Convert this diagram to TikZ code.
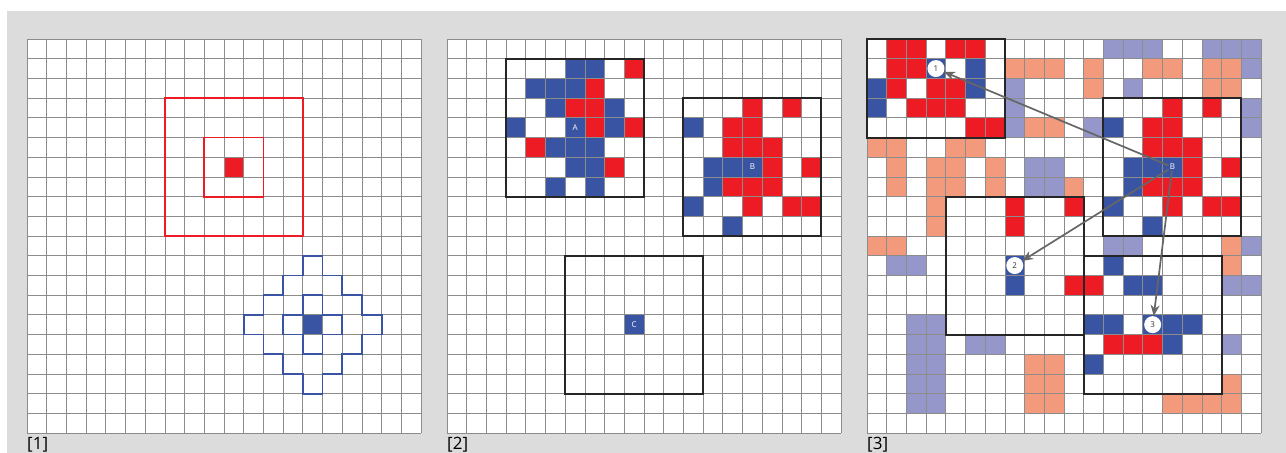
\documentclass[tikz,border=0pt]{standalone}
\usepackage{fontspec}
\setmainfont{Open Sans}
\usepackage{tikz}
\usetikzlibrary{arrows.meta}
\definecolor{cellred}{HTML}{ED1C24}
\definecolor{cellblue}{HTML}{3A54A4}
\definecolor{cellsalmon}{HTML}{F49A7C}
\definecolor{celllav}{HTML}{9597CB}
\definecolor{panelgray}{HTML}{DCDCDC}
\definecolor{arrowgray}{HTML}{666666}

% cells of the window round B (same in [2] and [3])
\newcommand{\redB}{15/3,17/3,14/4,15/4,14/5,15/5,16/5,16/6,18/6,14/7,15/7,16/7,15/8,17/8,18/8}
\newcommand{\blueB}{12/4,13/6,14/6,15/6,13/7,12/8,14/9}

\begin{document}
\begin{tikzpicture}[x=19.7pt, y=-19.7pt,
  gridline/.style={draw=black!45, line width=0.7pt},
  pickbox/.style={draw=black!85, line width=2pt},
  redring/.style={draw=cellred, line width=1.8pt},
  bluering/.style={draw=cellblue, line width=1.8pt, line join=miter},
  celllabel/.style={text=white, font=\fontsize{8}{9}\selectfont, inner sep=1pt},
  marker/.style={circle, fill=white, inner sep=0pt, minimum size=17pt,
    text=black!80, font=\fontsize{8}{9}\selectfont},
  linkarrow/.style={draw=arrowgray, line width=1.7pt, -{Stealth[length=11pt, width=9pt]}},
  panellabel/.style={anchor=base west, inner sep=0pt, font=\fontsize{17}{20}\selectfont},
]
  % page and background
  \useasboundingbox (-1.371,-1.980) rectangle (63.909,21.015);
  \fill[panelgray] (-1.015,-1.421) rectangle (63.909,21.015);

  % [1] neighbourhoods
  \begin{scope}
    \fill[white] (0,0) rectangle (20,20);
    \fill[cellred] (10,6) rectangle ++(1,1);
    \fill[cellblue] (14,14) rectangle ++(1,1);
    \foreach \i in {0,...,20} {
      \draw[gridline] (\i,0) -- (\i,20);
      \draw[gridline] (0,\i) -- (20,\i);
    }
    \draw[redring] (9,5) rectangle (12,8);
    \draw[redring] (7,3) rectangle (14,10);
    \draw[bluering] (14,13) -- (15,13) -- (15,14) -- (16,14) -- (16,15) -- (15,15)
      -- (15,16) -- (14,16) -- (14,15) -- (13,15) -- (13,14) -- (14,14) -- cycle;
    \draw[bluering] (14,11) -- (15,11) -- (15,12) -- (16,12) -- (16,13) -- (17,13)
      -- (17,14) -- (18,14) -- (18,15) -- (17,15) -- (17,16) -- (16,16) -- (16,17)
      -- (15,17) -- (15,18) -- (14,18) -- (14,17) -- (13,17) -- (13,16) -- (12,16)
      -- (12,15) -- (11,15) -- (11,14) -- (12,14) -- (12,13) -- (13,13) -- (13,12)
      -- (14,12) -- cycle;
    \node[panellabel] (lab1) at (0,20.86) {[1]};
  \end{scope}

  % [2] windows A, B, C
  \begin{scope}[shift={(21.32,0)}]
    \fill[white] (0,0) rectangle (20,20);
    \foreach \c/\r in {9/1,7/2,6/3,7/3,7/4,9/4,4/5,8/6}
      \fill[cellred] (\c,\r) rectangle ++(1,1);
    \foreach \c/\r in {6/1,7/1,4/2,5/2,6/2,5/3,8/3,3/4,6/4,8/4,5/5,6/5,7/5,6/6,7/6,5/7,7/7,9/14}
      \fill[cellblue] (\c,\r) rectangle ++(1,1);
    \foreach \c/\r in \redB
      \fill[cellred] (\c,\r) rectangle ++(1,1);
    \foreach \c/\r in \blueB
      \fill[cellblue] (\c,\r) rectangle ++(1,1);
    \foreach \i in {0,...,20} {
      \draw[gridline] (\i,0) -- (\i,20);
      \draw[gridline] (0,\i) -- (20,\i);
    }
    \draw[pickbox] (3,1) rectangle (10,8);
    \draw[pickbox] (12,3) rectangle (19,10);
    \draw[pickbox] (6,11) rectangle (13,18);
    \node[celllabel] (a2) at (6.5,4.5) {A};
    \node[celllabel] (b2) at (15.5,6.5) {B};
    \node[celllabel] (c2) at (9.5,14.5) {C};
    \node[panellabel] (lab2) at (0,20.86) {[2]};
  \end{scope}

  % [3] B and the three candidates
  \begin{scope}[shift={(42.64,0)}]
    \fill[white] (0,0) rectangle (20,20);
    \foreach \c/\r in {7/1,8/1,9/1,11/1,14/1,15/1,17/1,18/1,11/2,17/2,18/2,8/4,9/4,
        0/5,1/5,4/5,5/5,1/6,3/6,4/6,6/6,1/7,3/7,4/7,6/7,10/7,3/8,3/9,0/10,1/10,
        18/10,18/11,8/16,9/16,8/17,9/17,18/17,8/18,9/18,15/18,16/18,17/18,18/18}
      \fill[cellsalmon] (\c,\r) rectangle ++(1,1);
    \foreach \c/\r in {12/0,13/0,14/0,17/0,18/0,19/0,19/1,7/2,13/2,7/3,19/3,7/4,11/4,
        19/4,8/6,9/6,8/7,9/7,12/10,13/10,19/10,1/11,2/11,18/12,19/12,2/14,3/14,
        2/15,3/15,5/15,6/15,18/15,2/16,3/16,2/17,3/17,2/18,3/18}
      \fill[celllav] (\c,\r) rectangle ++(1,1);
    \foreach \c/\r in {1/0,2/0,4/0,5/0,1/1,2/1,1/2,3/2,4/2,2/3,3/3,4/3,5/4,6/4,
        7/8,7/9,10/8,10/12,11/12,12/15,13/15,14/15}
      \fill[cellred] (\c,\r) rectangle ++(1,1);
    \foreach \c/\r in {5/1,0/2,5/2,0/3,7/12,12/11,13/12,14/12,11/14,12/14,15/14,
        16/14,15/15,11/16,3/1,7/11,14/14}
      \fill[cellblue] (\c,\r) rectangle ++(1,1);
    \foreach \c/\r in \redB
      \fill[cellred] (\c,\r) rectangle ++(1,1);
    \foreach \c/\r in \blueB
      \fill[cellblue] (\c,\r) rectangle ++(1,1);
    \foreach \i in {0,...,20} {
      \draw[gridline] (\i,0) -- (\i,20);
      \draw[gridline] (0,\i) -- (20,\i);
    }
    \draw[pickbox] (0,0) rectangle (7,5);
    \draw[pickbox] (12,3) rectangle (19,10);
    \draw[pickbox] (4,8) rectangle (11,15);
    \draw[pickbox] (11,11) rectangle (18,18);
    \node[celllabel] (b3) at (15.5,6.5) {B};
    \node[marker] (m1) at (3.5,1.5) {1};
    \node[marker] (m2) at (7.5,11.5) {2};
    \node[marker] (m3) at (14.5,14.5) {3};
    \draw[linkarrow] (b3) -- (m1);
    \draw[linkarrow] (b3) -- (m2);
    \draw[linkarrow] (b3) -- (m3);
    \node[panellabel] (lab3) at (0,20.86) {[3]};
  \end{scope}
\end{tikzpicture}
\end{document}
